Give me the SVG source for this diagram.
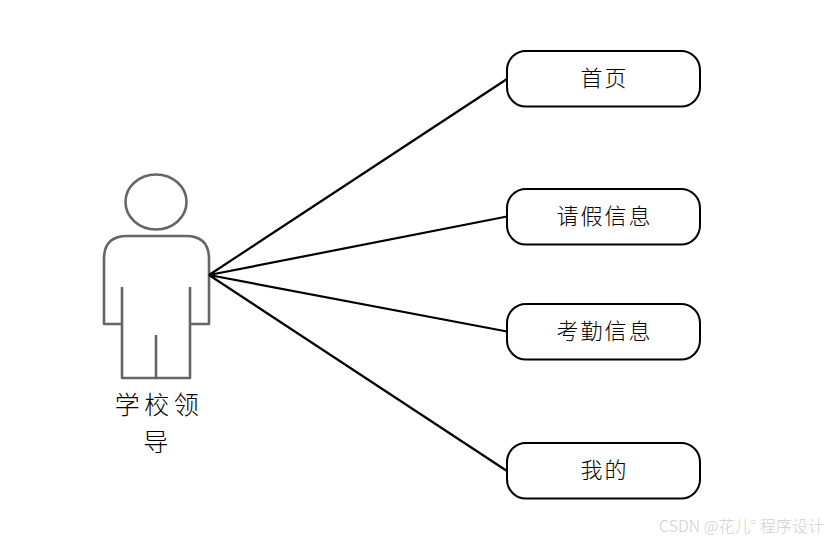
<svg xmlns="http://www.w3.org/2000/svg" width="835" height="543" viewBox="0 0 835 543">
  <style>
    text { font-family: "Noto Sans CJK SC", "Liberation Sans", sans-serif; fill: #000; text-anchor: middle; font-weight: 300; }
    .lbl { font-size: 22px; letter-spacing: 2px; }
    .act { font-size: 25px; letter-spacing: 4.500px; }
    .box { fill: #fff; stroke: #000; stroke-width: 2; }
    .fig { fill: none; stroke: #666; stroke-width: 2.6; stroke-linejoin: round; }
    .conn { stroke: #000; stroke-width: 2.2; fill: none; }
    .wm { font-size: 16px; fill: #cfcfcf; text-anchor: start; font-weight: 300; }
  </style>
  <rect width="835" height="543" fill="#fff"/>
  <g id="actor">
    <ellipse class="fig" cx="156" cy="202" rx="30.5" ry="27.5"/>
    <path class="fig" d="M122 324H104V259Q104 236 127 236H186Q209 236 209 259V324H190"/>
    <path class="fig" d="M122 287V378H190V287M156 335V378"/>
    <text class="act"><tspan x="159" y="414">学校领</tspan><tspan x="158" y="451">导</tspan></text>
  </g>
  <g id="connectors">
    <path class="conn" d="M209 275L507 79M209 275L507 216.500M209 275L507 331.500M209 275L507 471"/>
  </g>
  <g id="node-home">
    <rect class="box" x="507" y="51" width="193" height="55.500" rx="19" ry="19"/>
    <text class="lbl" x="604.500" y="86">首页</text>
  </g>
  <g id="node-leave">
    <rect class="box" x="507" y="189" width="193" height="55.500" rx="19" ry="19"/>
    <text class="lbl" x="604.500" y="224">请假信息</text>
  </g>
  <g id="node-attendance">
    <rect class="box" x="507" y="304" width="193" height="55.500" rx="19" ry="19"/>
    <text class="lbl" x="604.500" y="339">考勤信息</text>
  </g>
  <g id="node-mine">
    <rect class="box" x="507" y="443" width="193" height="55.500" rx="19" ry="19"/>
    <text class="lbl" x="604.500" y="478">我的</text>
  </g>
  <text class="wm" y="532" x="659" textLength="165" lengthAdjust="spacing">CSDN @花儿° 程序设计</text>
</svg>
